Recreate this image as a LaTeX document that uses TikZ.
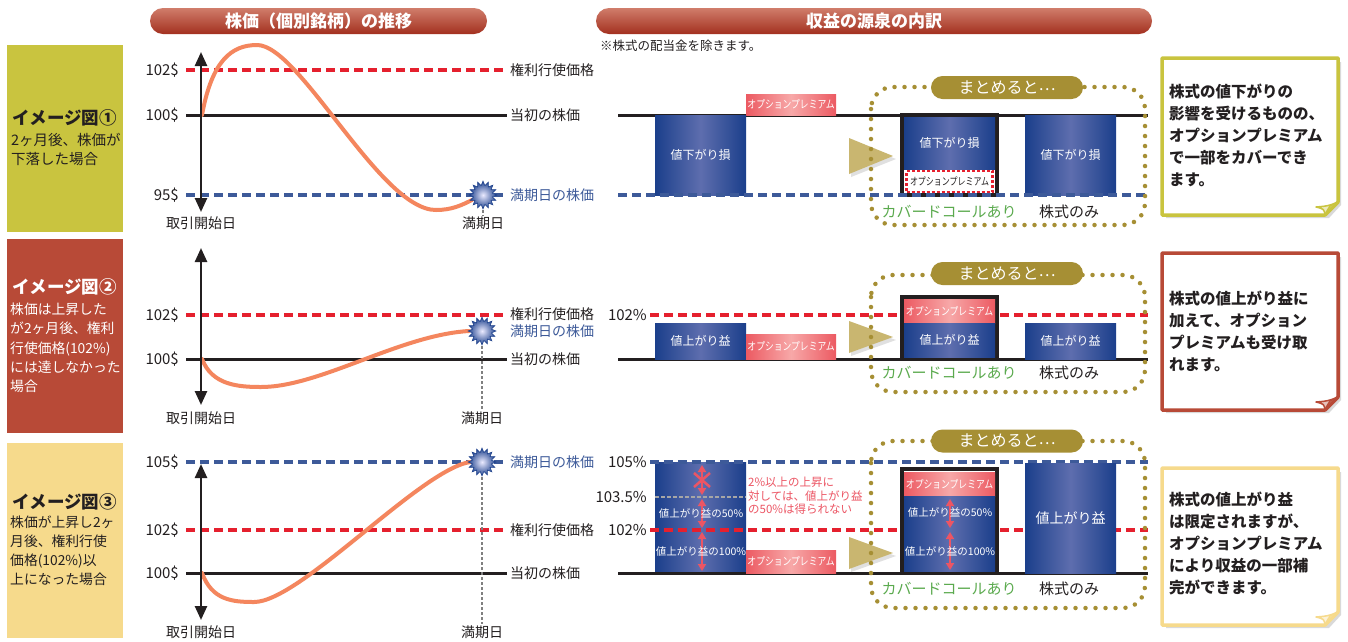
\documentclass[tikz,border=0pt]{standalone}
\usepackage{fontspec}
\usepackage{graphicx}
\setmainfont{Noto Sans CJK JP}
\usetikzlibrary{shapes.geometric, arrows.meta, positioning, calc}

% colours
\definecolor{redline}{HTML}{E5202E}
\definecolor{blueline}{HTML}{3D5A99}
\definecolor{curveorange}{HTML}{F4865E}
\definecolor{barblue}{HTML}{1B3F8B}
\definecolor{barlight}{HTML}{5E6EAE}
\definecolor{premred}{HTML}{EC5A62}
\definecolor{premlight}{HTML}{F7A8A8}
\definecolor{gold}{HTML}{A68F34}
\definecolor{arrowgold}{HTML}{C9B670}
\definecolor{headred}{HTML}{A3301F}
\definecolor{headlight}{HTML}{D07D6B}
\definecolor{caseone}{HTML}{C9C43F}
\definecolor{casetwo}{HTML}{B84A37}
\definecolor{casethree}{HTML}{F6DA8C}
\definecolor{covergreen}{HTML}{5BAA4E}
\definecolor{textdark}{HTML}{231F20}
\definecolor{warnred}{HTML}{EC5564}

\newcommand{\fsz}[2]{\fontsize{#1}{#2}\selectfont}
\newcommand{\premtext}{\scalebox{0.8}[1]{オプションプレミアム}}
\newcommand{\sumtext}{まとめると\raisebox{0.3ex}{…}}

\tikzset{
  strikeline/.style={redline, line width=3.5pt, dash pattern=on 9pt off 5pt},
  expiryline/.style={blueline, line width=3.5pt, dash pattern=on 9pt off 5pt},
  startline/.style={textdark, line width=3pt},
  pricecurve/.style={curveorange, line width=4pt, line cap=round},
  timeaxis/.style={textdark, line width=2.5pt, {Triangle[width=12pt,length=14pt]}-{Triangle[width=12pt,length=14pt]}},
  ticklbl/.style={anchor=east, font=\fsz{15}{15}, text=textdark, inner sep=1pt},
  linelbl/.style={anchor=west, font=\fsz{14}{14}, text=textdark, inner sep=1pt},
  daylbl/.style={font=\fsz{14}{14}, text=textdark, inner sep=1pt},
  burst/.style={star, star points=16, star point ratio=1.45, minimum size=28pt, inner sep=0pt,
    draw=barblue, line width=0.5pt, inner color=blue!8!white, outer color=barblue},
  guide/.style={gray, line width=1.3pt, dash pattern=on 2.5pt off 2.5pt},
  barnode/.style={left color=barblue, right color=barblue, middle color=barlight, text=white,
    font=\fsz{12}{12}, inner sep=0pt, minimum width=91pt},
  premnode/.style={left color=premred, right color=premred, middle color=premlight, text=white,
    font=\fsz{11}{11}, inner sep=0pt},
  gainarrow/.style={warnred, line width=2.5pt, {Triangle[width=8pt,length=7pt]}-{Triangle[width=8pt,length=7pt]}},
  dotbox/.style={gold, line width=4.5pt, dash pattern=on 0pt off 10pt, line cap=round, rounded corners=22pt},
  pill/.style={fill=gold, text=white, rounded corners=11.5pt, minimum width=152pt, minimum height=23pt,
    font=\fsz{16}{16}, inner sep=0pt},
  header/.style={top color=headlight, bottom color=headred, text=white, rounded corners=13pt,
    minimum height=26pt, font=\bfseries\fsz{17}{17}, inner sep=0pt},
  casetitle/.style={anchor=west, font=\bfseries\fsz{17.5}{17.5}, inner sep=0pt},
  casebody/.style={anchor=west, align=left, inner sep=0pt},
  notetext/.style={anchor=west, align=left, font=\bfseries\fsz{15.5}{22}, text=textdark, inner sep=0pt},
}

\begin{document}
\begin{tikzpicture}[x=1pt, y=-1pt]
\fill[white] (0,0) rectangle (1348,641);
\useasboundingbox (0,0) rectangle (1348,641);

% headers
\node[header, minimum width=337pt] (head1) at (318.5,21) {株価（個別銘柄）の推移};
\node[header, minimum width=556pt] (head2) at (874,21) {収益の源泉の内訳};
\node[anchor=west, font=\fsz{12.5}{12.5}, text=textdark, inner sep=0pt] (remark) at (600,46) {※株式の配当金を除きます。};

% case boxes
\fill[caseone] (7,45) rectangle (123,232);
\fill[casetwo] (7,239) rectangle (123,433);
\fill[casethree] (7,443) rectangle (123,638);
\node[casetitle, text=textdark] (case1) at (12,118) {イメージ図①};
\node[casebody, text=textdark, font=\fsz{14.5}{19}] (body1) at (11,149) {2ヶ月後、株価が\\下落した場合};
\node[casetitle, text=white] (case2) at (12,287) {イメージ図②};
\node[casebody, text=white, font=\fsz{13.8}{19.3}] (body2) at (10,348) {株価は上昇した\\が2ヶ月後、権利\\行使価格(102\%)\\には達しなかった\\場合};
\node[casetitle, text=textdark] (case3) at (12,502) {イメージ図③};
\node[casebody, text=textdark, font=\fsz{13.8}{19}] (body3) at (10,551) {株価が上昇し2ヶ\\月後、権利行使\\価格(102\%)以\\上になった場合};

% ---- chart 1: price falls
\draw[strikeline] (186,70) -- (505,70);
\draw[startline] (186,115) -- (507,115);
\draw[expiryline] (186,195) -- (505,195);
\node[ticklbl] (t1a) at (180,70) {102\$};
\node[ticklbl] (t1b) at (180,115) {100\$};
\node[ticklbl] (t1c) at (180,195) {95\$};
\node[linelbl] (l1a) at (509,70) {権利行使価格};
\node[linelbl] (l1b) at (509,115) {当初の株価};
\node[linelbl, text=blueline] (l1c) at (509,195) {満期日の株価};
\draw[pricecurve] (202,115) .. controls (212,60) and (232,45) .. (257,45)
  .. controls (300,45) and (380,210) .. (436,210) .. controls (452,210) and (462,205) .. (472,200);
\draw[timeaxis] (201,52) -- (201,212);
\node[daylbl] (start1) at (201,223) {取引開始日};
\node[daylbl] (end1) at (483,223) {満期日};
\draw[guide] (483,195) -- (end1.north);
\node[burst] (star1) at (483,195) {};

% ---- chart 2: rises below strike
\draw[strikeline] (186,315) -- (505,315);
\draw[startline] (186,359) -- (507,359);
\node[ticklbl] (t2a) at (180,315) {102\$};
\node[ticklbl] (t2b) at (180,359) {100\$};
\node[linelbl] (l2a) at (509,314) {権利行使価格};
\node[linelbl, text=blueline] (l2b) at (509,331) {満期日の株価};
\node[linelbl] (l2c) at (509,359) {当初の株価};
\draw[pricecurve] (202,359) .. controls (212,385) and (238,387) .. (261,387)
  .. controls (320,387) and (400,335) .. (469,331);
\draw[timeaxis] (201,248) -- (201,405);
\node[daylbl] (start2) at (201,418) {取引開始日};
\node[daylbl] (end2) at (482,418) {満期日};
\draw[guide] (482,331) -- (end2.north);
\node[burst] (star2) at (482,331) {};

% ---- chart 3: rises above strike
\draw[expiryline] (186,462) -- (505,462);
\draw[strikeline] (186,530) -- (505,530);
\draw[startline] (186,573) -- (507,573);
\node[ticklbl] (t3a) at (180,462) {105\$};
\node[ticklbl] (t3b) at (180,530) {102\$};
\node[ticklbl] (t3c) at (180,573) {100\$};
\node[linelbl, text=blueline] (l3a) at (509,462) {満期日の株価};
\node[linelbl] (l3b) at (509,530) {権利行使価格};
\node[linelbl] (l3c) at (509,573) {当初の株価};
\node[daylbl] (start3) at (201,632) {取引開始日};
\node[daylbl] (end3) at (482,632) {満期日};
\draw[guide] (482,462) -- (end3.north);
\draw[pricecurve] (202,573) .. controls (212,600) and (232,602) .. (254,602)
  .. controls (300,602) and (420,470) .. (470,462);
\draw[timeaxis] (201,464) -- (201,620);
\node[burst] (star3) at (482,462) {};

% ---- breakdown 1
\draw[startline] (618,115) -- (1148,115);
\node[premnode, minimum width=90pt, minimum height=21pt] (prem1) at (791,104.5) {\premtext};
\node[barnode, minimum height=80pt] (loss1) at (700.5,155) {値下がり損};
\node[barnode, minimum height=80pt] (loss3) at (1070.5,155) {値下がり損};
\fill[black!12] (851,141) -- (896,159) -- (851,177) -- cycle;
\fill[arrowgold] (849,138) -- (893,156) -- (849,174) -- cycle;
\draw[textdark, line width=3.5pt] (902,115) rectangle (997,195);
\node[barnode, minimum height=52pt, minimum width=91pt] (loss2) at (949.5,143) {値下がり損};
\node[draw=redline, fill=white, line width=2.5pt, dash pattern=on 3pt off 2pt, minimum width=86pt,
  minimum height=21pt, inner sep=0pt, font=\fsz{10.5}{10.5}, text=textdark] (prem2) at (949.5,181.5) {\scalebox{0.76}[1]{オプションプレミアム}};
\draw[expiryline] (618,195) -- (1148,195);
\draw[dotbox] (871,87) rectangle (1145,225);
\node[pill] (sum1) at (1007,87.5) {\sumtext};
\node[font=\fsz{15}{15}, text=covergreen, inner sep=0pt] (cc1) at (949,212) {カバードコールあり};
\node[font=\fsz{15}{15}, text=textdark, inner sep=0pt] (so1) at (1069,212) {株式のみ};

% ---- breakdown 2
\draw[strikeline] (650,315) -- (1148,315);
\draw[startline] (618,359) -- (1148,359);
\node[ticklbl] (p2a) at (648,315) {102\%};
\node[barnode, minimum height=36pt] (gain1) at (700.5,341) {値上がり益};
\node[premnode, minimum width=90pt, minimum height=25pt] (prem3) at (791,346.5) {\premtext};
\node[barnode, minimum height=36pt] (gain3) at (1070.5,341) {値上がり益};
\fill[black!12] (851,324) -- (896,340) -- (851,356) -- cycle;
\fill[arrowgold] (849,321) -- (893,337) -- (849,353) -- cycle;
\draw[textdark, line width=3.5pt] (902,297) rectangle (997,359);
\node[premnode, minimum width=91pt, minimum height=24pt] (prem4) at (949.5,311) {\premtext};
\node[barnode, minimum height=34pt] (gain2) at (949.5,340) {値上がり益};
\draw[dotbox] (871,275) rectangle (1145,392);
\node[pill] (sum2) at (1007,273.5) {\sumtext};
\node[font=\fsz{15}{15}, text=covergreen, inner sep=0pt] (cc2) at (949,373) {カバードコールあり};
\node[font=\fsz{15}{15}, text=textdark, inner sep=0pt] (so2) at (1069,373) {株式のみ};

% ---- breakdown 3
\node[barnode, minimum height=111pt] (gain4) at (700.5,517.5) {};
\draw[gray!70, line width=1.2pt, dash pattern=on 4pt off 2pt] (655,497) -- (746,497);
\draw[gainarrow] (702,465) -- (702,495);
\draw[warnred, line width=2.5pt] (694,473) -- (710,487) (694,487) -- (710,473);
\draw[gainarrow] (702,499) -- (702,528);
\draw[gainarrow] (702,532) -- (702,571);
\node[text=white, font=\fsz{10.5}{10.5}, inner sep=0pt] (half1) at (701,513) {値上がり益の50\%};
\node[text=white, font=\fsz{10.5}{10.5}, inner sep=0pt] (full1) at (701,551) {値上がり益の100\%};
\draw[startline] (618,573) -- (1148,573);
\draw[expiryline] (650,462) -- (1148,462);
\draw[strikeline] (650,530) -- (1148,530);
\node[ticklbl] (p3a) at (648,462) {105\%};
\node[ticklbl] (p3b) at (648,497) {103.5\%};
\node[ticklbl] (p3c) at (648,530) {102\%};
\node[anchor=north west, align=left, font=\fsz{11.5}{13.6}, text=warnred, inner sep=0pt] (warn) at (748,477)
  {2\%以上の上昇に\\対しては、値上がり益\\の50\%は得られない};
\node[premnode, minimum width=90pt, minimum height=23pt] (prem5) at (791,561.5) {\premtext};
\node[barnode, minimum height=110pt, font=\fsz{14}{14}] (gain6) at (1070.5,518) {値上がり益};
\fill[black!12] (851,540) -- (896,556) -- (851,572) -- cycle;
\fill[arrowgold] (849,537) -- (893,553) -- (849,569) -- cycle;
\draw[textdark, line width=3.5pt] (902,469) rectangle (997,573);
\node[premnode, minimum width=91pt, minimum height=24pt] (prem6) at (949.5,484) {\premtext};
\node[barnode, minimum height=75pt] (gain5) at (949.5,533.5) {};
\draw[gainarrow] (950,499) -- (950,528);
\draw[gainarrow] (950,532) -- (950,570);
\node[text=white, font=\fsz{10.5}{10.5}, inner sep=0pt] (half2) at (950,512) {値上がり益の50\%};
\node[text=white, font=\fsz{10.5}{10.5}, inner sep=0pt] (full2) at (950,551) {値上がり益の100\%};
\draw[dotbox] (871,441) rectangle (1145,608);
\node[pill] (sum3) at (1007,441) {\sumtext};
\node[font=\fsz{15}{15}, text=covergreen, inner sep=0pt] (cc3) at (949,589) {カバードコールあり};
\node[font=\fsz{15}{15}, text=textdark, inner sep=0pt] (so3) at (1069,589) {株式のみ};

% notes with folded corner
\foreach \top/\bot/\col in {58/215/caseone, 253/410/casetwo, 468/625/casethree} {
  \fill[black!15] (1166,\top+4) -- (1341,\top+4) -- (1341,\bot-10) -- (1329,\bot+3) -- (1166,\bot+3) -- cycle;
  \draw[\col, line width=3.5pt, fill=white, line join=round] (1162,\top) -- (1338,\top) -- (1338,\bot-13)
    -- (1325,\bot) -- (1162,\bot) -- cycle;
  \filldraw[\col, fill=\col!35, line width=1.5pt, line join=round] (1338,\bot-13) .. controls (1330,\bot-10) .. (1325,\bot)
    .. controls (1324,\bot-6) .. (1316,\bot-8) .. controls (1328,\bot-9) .. cycle;
}
\node[notetext] (note1) at (1169,135) {株式の値下がりの\\影響を受けるものの、\\オプションプレミアム\\で一部をカバーでき\\ます。};
\node[notetext] (note2) at (1169,331) {株式の値上がり益に\\加えて、オプション\\プレミアムも受け取\\れます。};
\node[notetext] (note3) at (1169,543) {株式の値上がり益\\は限定されますが、\\オプションプレミアム\\により収益の一部補\\完ができます。};
\end{tikzpicture}
\end{document}
